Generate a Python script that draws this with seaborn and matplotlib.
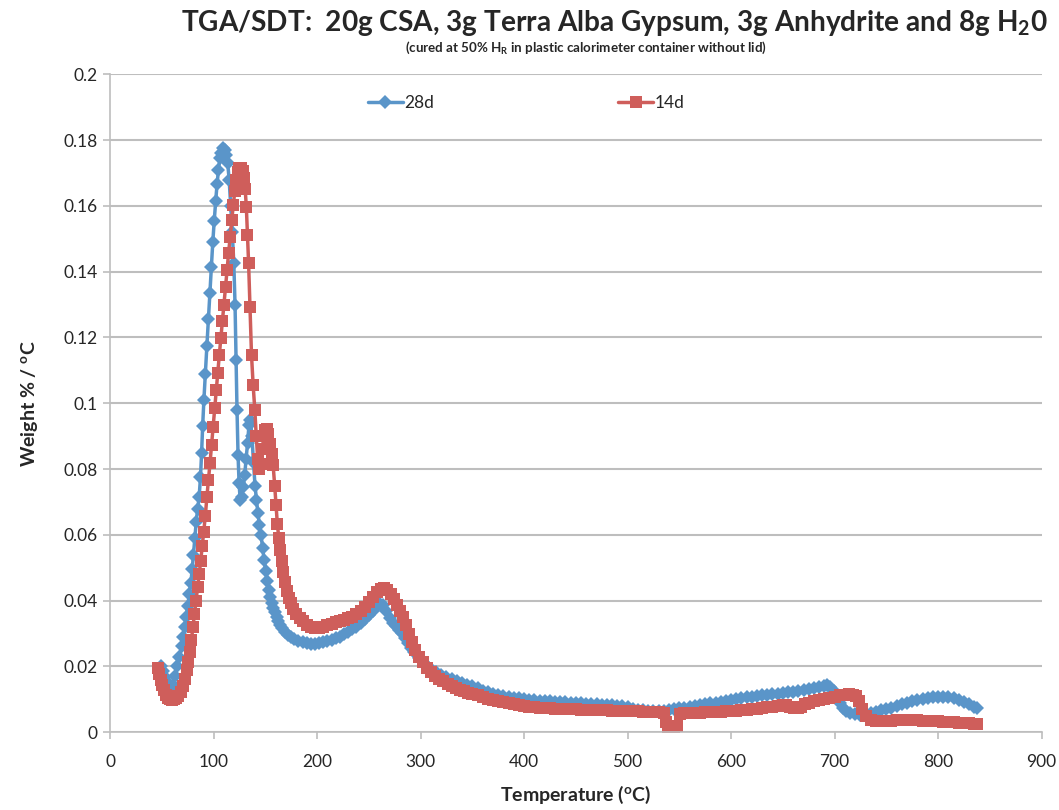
import matplotlib
matplotlib.use('Agg')
import matplotlib.pyplot as plt
import seaborn as sns
import pandas as pd

# TGA/SDT derivative curves
t_28d = [49, 51, 53, 55, 57, 59, 61, 63, 65, 67, 69, 70.5, 72, 73.5, 75, 76.5, 78, 79.3, 80.5, 81.8,
         83.2, 84.6, 86, 87.3, 88.4, 89.4, 90.6, 92, 93.5, 95, 96.4, 97.8, 99.2, 100.6, 102, 103.3,
         104.7, 106.1, 107.6, 109.2, 110.8, 112.3, 113.6, 115, 116.5, 118, 119.5, 120.7, 121.7, 122.6,
         123.6, 124.6, 125.7, 127, 128.5, 130, 131.4, 132.8, 134.2, 135.6, 137, 138.5, 140, 141.4,
         142.8, 144.3, 145.8, 147.3, 148.8, 150.3, 151.8, 153.3, 154.8, 156.3, 157.8, 159.3, 160.8,
         162.5, 164.5, 166.5, 169, 172, 175, 178, 182, 186, 190, 194, 198, 202, 206, 210, 214, 218,
         222, 226, 230, 234, 238, 242, 246, 250, 254, 258, 261, 264, 267, 270, 273, 276, 279, 282,
         285, 288, 291, 294, 298, 302, 306, 310, 315, 320, 325, 330, 335, 340, 345, 350, 355, 360,
         365, 370, 375, 380, 385, 390, 395, 400, 405, 410, 415, 420, 425, 430, 435, 440, 445, 450,
         455, 460, 465, 470, 475, 480, 485, 490, 495, 500, 505, 510, 515, 520, 525, 530, 535, 540,
         545, 550, 555, 560, 565, 570, 575, 580, 585, 590, 595, 600, 605, 610, 615, 620, 625, 630,
         635, 640, 645, 650, 655, 660, 665, 670, 675, 680, 685, 690, 693, 696, 699, 702, 705, 708,
         711, 715, 720, 725, 730, 735, 740, 745, 750, 755, 760, 765, 770, 775, 780, 785, 790, 795,
         800, 805, 810, 815, 820, 825, 830, 835, 838]
w_28d = [0.0200, 0.0185, 0.0168, 0.0152, 0.0140, 0.0135, 0.0145, 0.0170, 0.0200, 0.0230, 0.0262,
         0.0290, 0.0320, 0.0350, 0.0385, 0.0420, 0.0455, 0.0495, 0.0540, 0.0590, 0.0640, 0.0680,
         0.0715, 0.0775, 0.0850, 0.0930, 0.1010, 0.1090, 0.1175, 0.1255, 0.1335, 0.1415, 0.1490,
         0.1555, 0.1615, 0.1665, 0.1710, 0.1745, 0.1762, 0.1775, 0.1770, 0.1755, 0.1730, 0.1680,
         0.1600, 0.1520, 0.1426, 0.1299, 0.1132, 0.0980, 0.0843, 0.0757, 0.0705, 0.0715, 0.0745,
         0.0782, 0.0830, 0.0880, 0.0935, 0.0950, 0.0900, 0.0820, 0.0750, 0.0706, 0.0665, 0.0630,
         0.0600, 0.0560, 0.0525, 0.0490, 0.0460, 0.0432, 0.0410, 0.0392, 0.0378, 0.0364, 0.0351,
         0.0338, 0.0326, 0.0316, 0.0306, 0.0297, 0.0290, 0.0284, 0.0278, 0.0274, 0.0271, 0.0269,
         0.0269, 0.0271, 0.0273, 0.0276, 0.0280, 0.0285, 0.0291, 0.0298, 0.0305, 0.0313, 0.0321,
         0.0331, 0.0343, 0.0356, 0.0369, 0.0383, 0.0391, 0.0386, 0.0368, 0.0348, 0.0333, 0.0322,
         0.0312, 0.0301, 0.0287, 0.0272, 0.0257, 0.0243, 0.0227, 0.0212, 0.0200, 0.0191, 0.0182,
         0.0175, 0.0168, 0.0162, 0.0156, 0.0151, 0.0145, 0.0140, 0.0133, 0.0126, 0.0121, 0.0117,
         0.0113, 0.0110, 0.0107, 0.0105, 0.0103, 0.0101, 0.0099, 0.0098, 0.0096, 0.0095, 0.0094,
         0.0093, 0.0092, 0.0091, 0.0090, 0.0089, 0.0088, 0.0087, 0.0086, 0.0085, 0.0084, 0.0083,
         0.0082, 0.0081, 0.0079, 0.0077, 0.0072, 0.0069, 0.0067, 0.0066, 0.0066, 0.0066, 0.0066,
         0.0067, 0.0070, 0.0073, 0.0075, 0.0078, 0.0080, 0.0083, 0.0085, 0.0088, 0.0090, 0.0093,
         0.0096, 0.0099, 0.0101, 0.0104, 0.0106, 0.0108, 0.0110, 0.0112, 0.0114, 0.0116, 0.0117,
         0.0119, 0.0121, 0.0123, 0.0125, 0.0127, 0.0130, 0.0133, 0.0136, 0.0140, 0.0143, 0.0138,
         0.0125, 0.0105, 0.0088, 0.0074, 0.0064, 0.0058, 0.0054, 0.0053, 0.0055, 0.0059, 0.0063,
         0.0067, 0.0071, 0.0075, 0.0080, 0.0085, 0.0090, 0.0094, 0.0098, 0.0102, 0.0105, 0.0107,
         0.0108, 0.0108, 0.0107, 0.0104, 0.0099, 0.0093, 0.0086, 0.0078, 0.0073]

t_14d = [46, 47.5, 49, 50.5, 52, 54, 56, 58, 60, 62, 64, 66, 68, 70, 72, 74, 75.5, 77, 78.5, 80,
         81.5, 83, 84.5, 86, 87.5, 89, 90.5, 92, 93.5, 95, 96.5, 98, 99.5, 101, 102.5, 104, 105.5,
         107, 108.5, 110, 111.5, 113, 114.5, 116, 117.5, 119, 120.5, 122, 123.5, 125, 126.5, 128,
         129.3, 130.5, 131.6, 132.7, 133.8, 135.1, 136.6, 138.2, 139.8, 141.2, 142.6, 144, 145.5,
         147, 148.5, 150, 151.5, 153, 154.5, 156, 157.5, 159, 160.3, 161.6, 163, 164.5, 166, 167.5,
         169, 170.7, 172.5, 174.5, 177, 180, 183, 186, 190, 194, 198, 202, 206, 210, 214, 218, 222,
         226, 230, 234, 238, 242, 246, 250, 254, 258, 262, 265, 268, 271, 274, 277, 280, 283, 286,
         289, 292, 295, 298, 302, 306, 310, 314, 318, 322, 326, 330, 334, 338, 342, 346, 350, 355,
         360, 365, 370, 375, 380, 385, 390, 395, 400, 405, 410, 415, 420, 425, 430, 435, 440, 445,
         450, 455, 460, 465, 470, 475, 480, 485, 490, 495, 500, 505, 510, 515, 520, 525, 530, 535,
         537, 539, 542, 545, 548, 551, 555, 560, 565, 570, 575, 580, 585, 590, 595, 600, 605, 610,
         615, 620, 625, 630, 635, 640, 645, 650, 653, 657, 661, 665, 668, 671, 675, 680, 685, 690,
         695, 700, 705, 710, 714, 718, 721, 724, 727, 730, 735, 740, 745, 750, 755, 760, 765, 770,
         775, 780, 785, 790, 795, 800, 805, 810, 815, 820, 825, 830, 835, 838]
w_14d = [0.0195, 0.0178, 0.0160, 0.0143, 0.0128, 0.0113, 0.0104, 0.0100, 0.0099, 0.0100, 0.0103,
         0.0110, 0.0122, 0.0140, 0.0162, 0.0190, 0.0215, 0.0245, 0.0280, 0.0320, 0.0360, 0.0400,
         0.0440, 0.0480, 0.0520, 0.0565, 0.0610, 0.0658, 0.0716, 0.0767, 0.0818, 0.0873, 0.0929,
         0.0985, 0.1040, 0.1091, 0.1147, 0.1198, 0.1250, 0.1300, 0.1352, 0.1405, 0.1458, 0.1506,
         0.1557, 0.1603, 0.1645, 0.1680, 0.1703, 0.1714, 0.1716, 0.1706, 0.1685, 0.1650, 0.1598,
         0.1511, 0.1426, 0.1294, 0.1147, 0.1055, 0.0980, 0.0900, 0.0830, 0.0800, 0.0815, 0.0860,
         0.0900, 0.0918, 0.0922, 0.0906, 0.0877, 0.0845, 0.0812, 0.0750, 0.0690, 0.0632, 0.0590,
         0.0554, 0.0519, 0.0488, 0.0458, 0.0428, 0.0408, 0.0392, 0.0376, 0.0360, 0.0347, 0.0337,
         0.0326, 0.0320, 0.0316, 0.0316, 0.0320, 0.0326, 0.0330, 0.0334, 0.0338, 0.0342, 0.0346,
         0.0351, 0.0358, 0.0368, 0.0380, 0.0395, 0.0412, 0.0425, 0.0435, 0.0438, 0.0432, 0.0420,
         0.0405, 0.0388, 0.0370, 0.0350, 0.0325, 0.0300, 0.0275, 0.0250, 0.0230, 0.0212, 0.0196,
         0.0183, 0.0172, 0.0163, 0.0155, 0.0147, 0.0140, 0.0134, 0.0128, 0.0124, 0.0120, 0.0116,
         0.0112, 0.0106, 0.0102, 0.0098, 0.0095, 0.0092, 0.0089, 0.0086, 0.0083, 0.0080, 0.0078,
         0.0076, 0.0075, 0.0074, 0.0073, 0.0072, 0.0071, 0.0071, 0.0070, 0.0070, 0.0069, 0.0069,
         0.0068, 0.0068, 0.0067, 0.0067, 0.0066, 0.0066, 0.0065, 0.0065, 0.0064, 0.0064, 0.0063,
         0.0063, 0.0062, 0.0062, 0.0060, 0.0030, 0.0008, 0.0005, 0.0008, 0.0020, 0.0055, 0.0058,
         0.0059, 0.0060, 0.0060, 0.0061, 0.0061, 0.0062, 0.0063, 0.0064, 0.0065, 0.0066, 0.0067,
         0.0069, 0.0071, 0.0072, 0.0074, 0.0076, 0.0078, 0.0080, 0.0082, 0.0083, 0.0076, 0.0074,
         0.0074, 0.0076, 0.0085, 0.0090, 0.0095, 0.0098, 0.0101, 0.0104, 0.0108, 0.0112, 0.0114,
         0.0115, 0.0114, 0.0110, 0.0095, 0.0070, 0.0050, 0.0038, 0.0035, 0.0034, 0.0034, 0.0035,
         0.0036, 0.0036, 0.0036, 0.0036, 0.0036, 0.0035, 0.0035, 0.0034, 0.0033, 0.0032, 0.0031,
         0.0030, 0.0029, 0.0028, 0.0027, 0.0026, 0.0025]

blue = '#5A95C9'
red = '#CF5E5B'
grid_gray = '#BEBEBE'

sns.set_theme(style='white')
plt.rcParams['font.family'] = ['Lato', 'DejaVu Sans']
plt.rcParams['mathtext.default'] = 'regular'

df_28 = pd.DataFrame({'Temperature': t_28d, 'Weight': w_28d})
df_14 = pd.DataFrame({'Temperature': t_14d, 'Weight': w_14d})

fig = plt.figure(figsize=(10.59, 8.10), dpi=100)
ax = fig.add_axes([0.104, 0.096, 0.8795, 0.8123])

sns.lineplot(data=df_28, x='Temperature', y='Weight', ax=ax, color=blue, label='28d',
             marker='D', markersize=7.5, markeredgewidth=0, linewidth=2.5,
             sort=False, estimator=None)
sns.lineplot(data=df_14, x='Temperature', y='Weight', ax=ax, color=red, label='14d',
             marker='s', markersize=9, markeredgewidth=0, linewidth=2.5,
             sort=False, estimator=None)

ax.set_xlim(0, 900)
ax.set_ylim(0, 0.2)
ax.set_xticks(range(0, 1000, 100))
ax.set_yticks([0, 0.02, 0.04, 0.06, 0.08, 0.1, 0.12, 0.14, 0.16, 0.18, 0.2])
ax.set_yticklabels(['0', '0.02', '0.04', '0.06', '0.08', '0.1', '0.12', '0.14', '0.16', '0.18', '0.2'])
ax.yaxis.grid(True, color=grid_gray, linewidth=1.5)
ax.set_axisbelow(True)
for side in ['top', 'right']:
    ax.spines[side].set_visible(False)
for side in ['left', 'bottom']:
    ax.spines[side].set_color(grid_gray)
    ax.spines[side].set_linewidth(1.2)
ax.tick_params(axis='both', which='major', labelsize=12.5, length=5, width=1.2,
               color=grid_gray, direction='out', bottom=True, left=True, pad=4)
ax.tick_params(axis='x', pad=11)

ax.set_xlabel('Temperature ($^{o}$C)', fontsize=14, fontweight='bold', labelpad=10)
ax.set_ylabel('Weight % / $^{o}$C', fontsize=14, fontweight='bold', labelpad=17)

leg = ax.legend(loc='center', bbox_to_anchor=(0.447, 0.956), ncol=2, frameon=False,
                fontsize=12.5, handlelength=2.0, columnspacing=10.6, handletextpad=0.1)

fig.text(0.58, 0.972, 'TGA/SDT:  20g CSA, 3g Terra Alba Gypsum, 3g Anhydrite and 8g H$_2$0',
         ha='center', va='center', fontsize=20.2, fontweight='bold')
fig.text(0.553, 0.941, '(cured at 50% H$_R$ in plastic calorimeter container without lid)',
         ha='center', va='center', fontsize=9.6, fontweight='bold')

fig.savefig('out.png', dpi=100)
